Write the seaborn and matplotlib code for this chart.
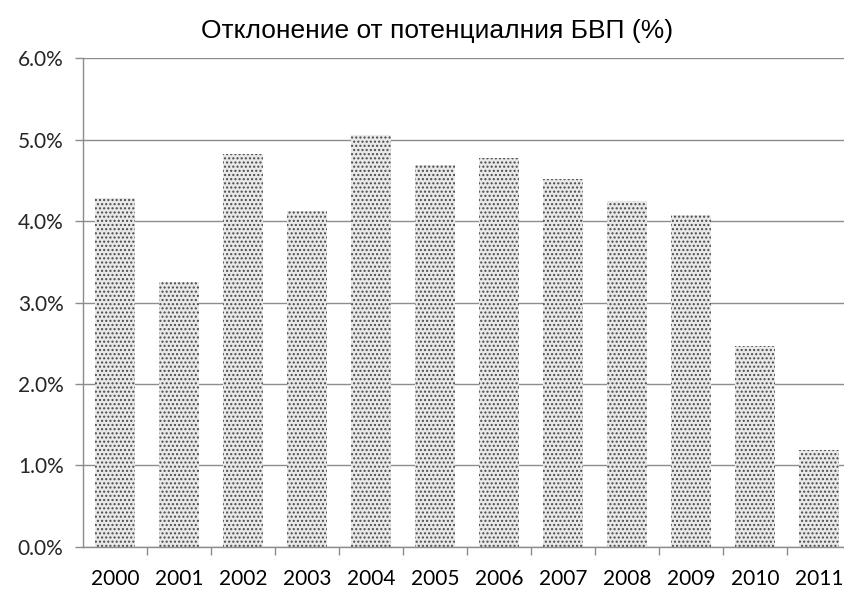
import matplotlib
matplotlib.use("Agg")
import matplotlib.pyplot as plt
import seaborn as sns
import pandas as pd
import numpy as np
from matplotlib.ticker import FixedLocator, FuncFormatter

years = ["2000", "2001", "2002", "2003", "2004", "2005", "2006", "2007", "2008", "2009", "2010", "2011"]
values = [4.28, 3.25, 4.83, 4.12, 5.06, 4.69, 4.77, 4.52, 4.25, 4.07, 2.47, 1.19]
yticks = [0, 1, 2, 3, 4, 5, 6]
title = "Отклонение от потенциалния БВП (%)"

sns.set_theme(style="white")
plt.rcParams['hatch.linewidth'] = 1.0

df = pd.DataFrame({"year": years, "value": values})

fig = plt.figure(figsize=(8.45, 5.9), dpi=100)
W, H = 845, 590
left, right, top, bottom = 83, 851, 58.3, 546.7
ax = fig.add_axes([left / W, 1 - bottom / H, (right - left) / W, (bottom - top) / H])

sns.barplot(data=df, x="year", y="value", ax=ax, color="#e9e9e9", width=0.64,
            saturation=1, linewidth=0)
for p in ax.patches:
    p.set_hatch("....")
    p.set_edgecolor("#4a4a4a")
    p.set_linewidth(0)

ax.set_ylim(0, 6)
ax.set_xlim(-0.5, len(years) - 0.5)
ax.set_yticks(yticks)
ax.yaxis.set_major_formatter(FuncFormatter(lambda v, _: f"{v:.1f}%"))
ax.yaxis.grid(True, color="#8c8c8c", linewidth=1.0)
ax.set_axisbelow(True)
ax.set_xlabel("")
ax.set_ylabel("")

ax.xaxis.set_minor_locator(FixedLocator(np.arange(0.5, len(years) - 0.5, 1)))
ax.tick_params(axis="x", which="major", length=0, pad=16, labelsize=15, colors="black")
ax.tick_params(axis="x", which="minor", length=6, width=1, color="#8c8c8c", direction="out", bottom=True)
ax.tick_params(axis="y", which="major", length=6, width=1, color="#8c8c8c", direction="out", left=True,
               labelsize=15, pad=8)
for lab in ax.get_xticklabels() + ax.get_yticklabels():
    lab.set_fontfamily("Lato")

for s in ["top", "right"]:
    ax.spines[s].set_visible(False)
for s in ["left", "bottom"]:
    ax.spines[s].set_color("#8c8c8c")
    ax.spines[s].set_linewidth(1.0)

fig.text(437 / W, 1 - 31 / H, title, ha="center", va="center", fontsize=19,
         fontfamily="Liberation Sans", color="black")

fig.savefig("out.png", dpi=100)
